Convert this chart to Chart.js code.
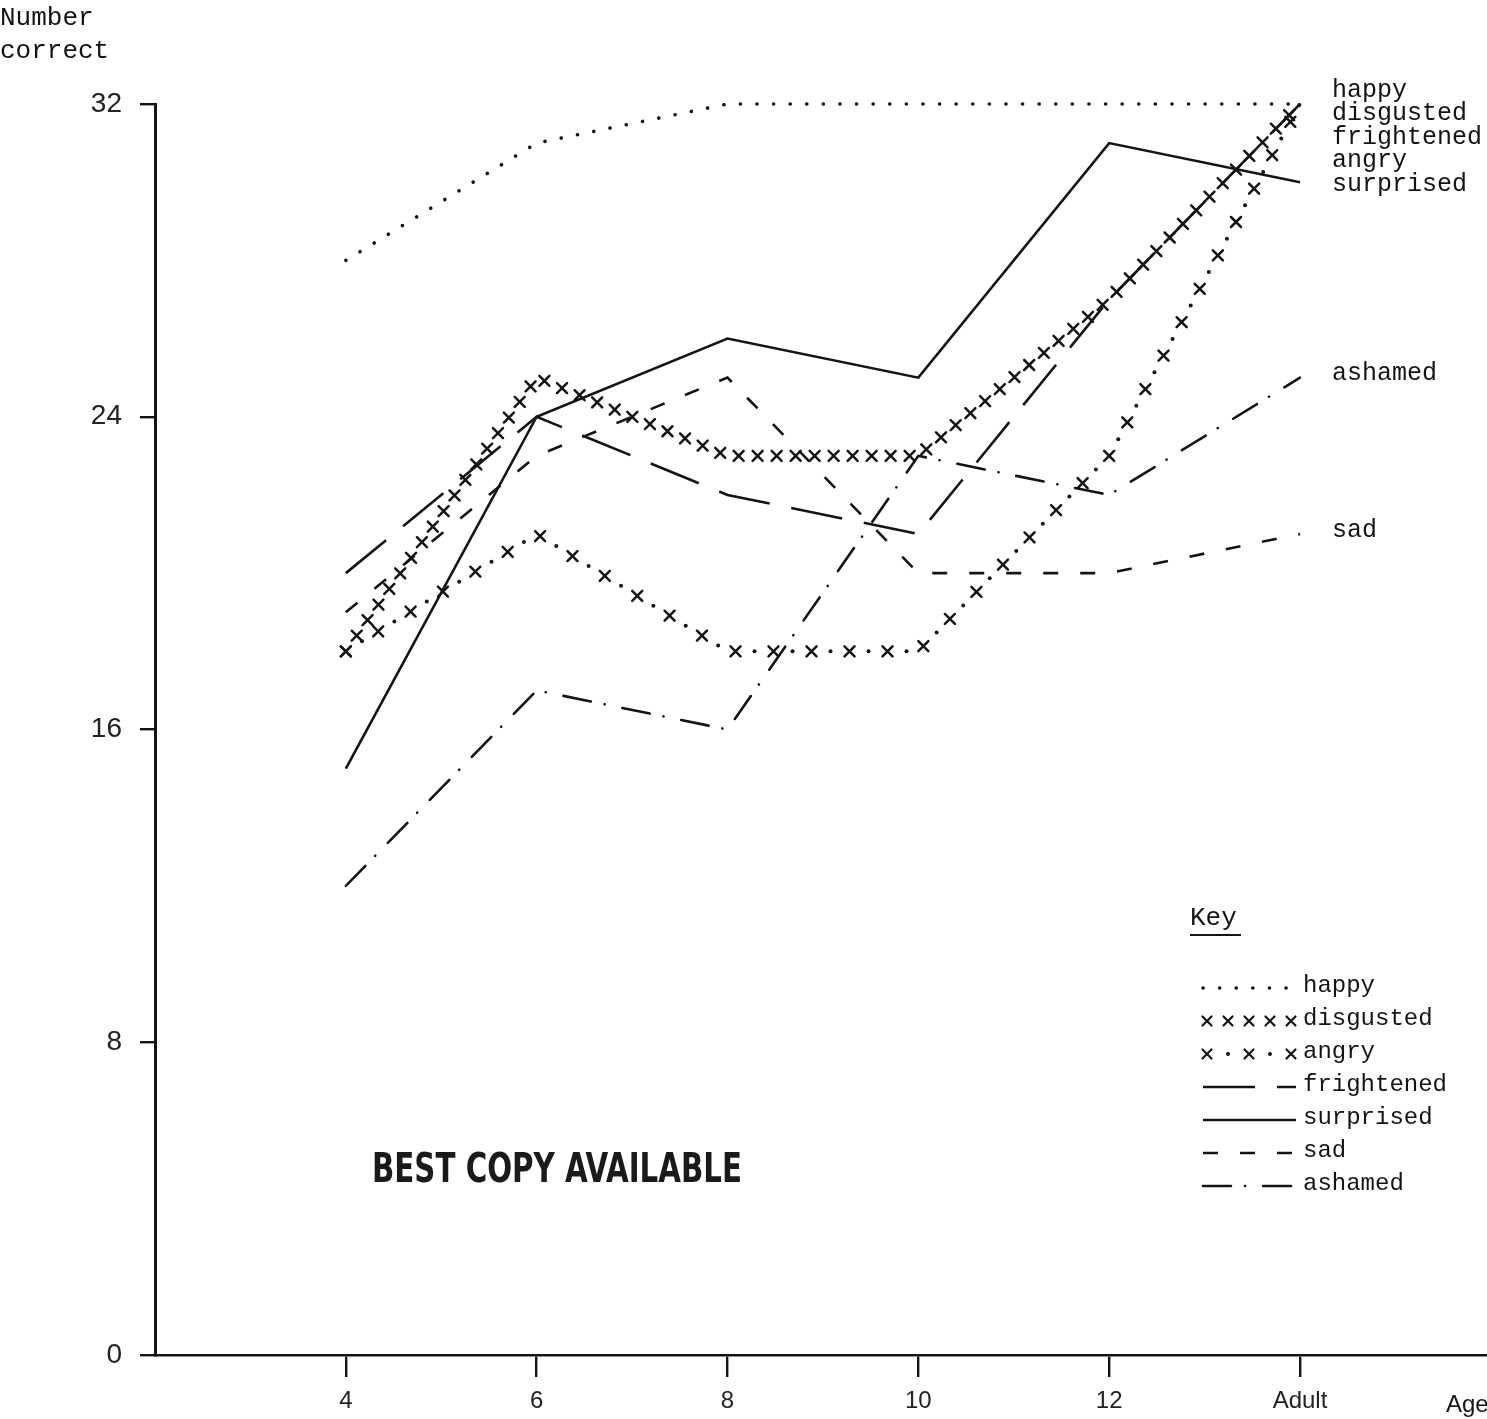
<!DOCTYPE html>
<html>
<head>
<meta charset="utf-8">
<script src="https://cdn.jsdelivr.net/npm/chart.js@4.4.0/dist/chart.umd.min.js"></script>
<style>
  html, body { margin: 0; padding: 0; background: #fff; }
  #wrap { position: relative; width: 1487px; height: 1419px; }
</style>
</head>
<body>
<div id="wrap"><canvas id="emotions"></canvas></div>
<script>
// ages on the x axis, number correct (out of 32) per emotion
var ages = ['4', '6', '8', '10', '12', 'Adult'];
var happy      = [28, 31, 32, 32, 32, 32];
var disgusted  = [18, 25, 23, 23, 27, 32];
var angry      = [18, 21, 18, 18, 23, 32];
var frightened = [20, 24, 22, 21, 27, 32];
var surprised  = [15, 24, 26, 25, 31, 30];
var sad        = [19, 23, 25, 20, 20, 21];
var ashamed    = [12, 17, 16, 23, 22, 25];
var yTicks = [0, 8, 16, 24, 32];

var ink = '#141414';
var mono = '"Liberation Mono", "DejaVu Sans Mono", monospace';

function toPoints(values) {
  return values.map(function(v, i) { return { x: i, y: v }; });
}

function series(label, values, opts) {
  return {
    label: label,
    data: toPoints(values),
    borderColor: opts.mark ? 'rgba(0,0,0,0)' : ink,
    borderWidth: opts.width || 2.6,
    borderDash: opts.dash || [],
    borderCapStyle: opts.cap || 'butt',
    pointRadius: 0,
    tension: 0,
    clip: false,
    mark: opts.mark || null
  };
}

var datasets = [
  series('happy', happy, { dash: [0.1, 16.5], cap: 'round', width: 3.6 }),
  series('disgusted', disgusted, { mark: 'cross' }),
  series('angry', angry, { mark: 'crossdot' }),
  series('frightened', frightened, { dash: [52, 22] }),
  series('surprised', surprised, {}),
  series('sad', sad, { dash: [15, 22] }),
  series('ashamed', ashamed, { dash: [28, 14, 0.1, 18], cap: 'round' })
];

function cross(ctx, x, y, r) {
  ctx.beginPath();
  ctx.moveTo(x - r, y - r); ctx.lineTo(x + r, y + r);
  ctx.moveTo(x + r, y - r); ctx.lineTo(x - r, y + r);
  ctx.stroke();
}
function dot(ctx, x, y, r) {
  ctx.beginPath();
  ctx.arc(x, y, r, 0, Math.PI * 2);
  ctx.fill();
}

// call fn every `step` px along a polyline
function walkLine(points, step, fn) {
  var k = 0, carry = 0;
  for (var i = 0; i < points.length - 1; i++) {
    var a = points[i], b = points[i + 1];
    var dx = b.x - a.x, dy = b.y - a.y, len = Math.hypot(dx, dy);
    var d = carry;
    while (d <= len) {
      fn(a.x + dx * d / len, a.y + dy * d / len, k++);
      d += step;
    }
    carry = d - len;
  }
}

function drawMark(ctx, kind, x, y, k) {
  if (kind === 'cross' || k % 2 === 0) cross(ctx, x, y, 5);
  else dot(ctx, x, y, 2);
}

var crossMarks = {
  id: 'crossMarks',
  afterDatasetsDraw: function(chart) {
    var ctx = chart.ctx;
    ctx.save();
    ctx.strokeStyle = ink; ctx.fillStyle = ink; ctx.lineWidth = 2.5; ctx.lineCap = 'round';
    chart.data.datasets.forEach(function(ds, i) {
      if (!ds.mark) return;
      var pts = chart.getDatasetMeta(i).data.map(function(p) { return { x: p.x, y: p.y }; });
      walkLine(pts, 19, function(x, y, k) { drawMark(ctx, ds.mark, x, y, k); });
    });
    ctx.restore();
  }
};

var annotations = {
  id: 'annotations',
  afterDraw: function(chart) {
    var ctx = chart.ctx, ys = chart.scales.y;
    ctx.save();
    ctx.fillStyle = ink;
    ctx.textBaseline = 'middle';
    ctx.textAlign = 'left';

    // axis title
    ctx.font = '26px ' + mono;
    ctx.fillText('Number', 0, 18);
    ctx.fillText('correct', 0, 51);
    ctx.font = '24px "Liberation Sans", Arial, sans-serif';
    ctx.fillText('Age', 1446, 1405);

    // line-end labels
    ctx.font = '25px ' + mono;
    ['happy', 'disgusted', 'frightened', 'angry', 'surprised'].forEach(function(t, i) {
      ctx.fillText(t, 1332, 90 + i * 23.5);
    });
    ctx.fillText('ashamed', 1332, ys.getPixelForValue(ashamed[ashamed.length - 1]) - 4);
    ctx.fillText('sad', 1332, ys.getPixelForValue(sad[sad.length - 1]) - 4);

    // key
    ctx.font = '26px ' + mono;
    ctx.fillText('Key', 1190, 918);
    ctx.lineWidth = 2;
    ctx.strokeStyle = ink;
    ctx.beginPath(); ctx.moveTo(1190, 935); ctx.lineTo(1241, 935); ctx.stroke();

    ctx.font = '24px ' + mono;
    var rowY = 988;
    chart.data.datasets.forEach(function(ds) {
      var x0 = 1203, x1 = 1296;
      ctx.save();
      ctx.strokeStyle = ink; ctx.fillStyle = ink;
      if (ds.mark) {
        ctx.lineWidth = 2.2; ctx.lineCap = 'round';
        for (var k = 0; k < 5; k++) {
          var x = x0 + 4 + k * 21;
          if (ds.mark === 'cross' || k % 2 === 0) cross(ctx, x, rowY, 4.5);
          else dot(ctx, x, rowY, 2);
        }
      } else {
        ctx.lineWidth = ds.borderWidth;
        ctx.lineCap = ds.borderCapStyle;
        ctx.setLineDash(ds.borderDash);
        ctx.beginPath(); ctx.moveTo(x0, rowY); ctx.lineTo(x1, rowY); ctx.stroke();
      }
      ctx.restore();
      ctx.fillText(ds.label, 1303, rowY - 2);
      rowY += 33;
    });

    // photocopy stamp
    ctx.font = 'bold 40px "DejaVu Sans Condensed", "DejaVu Sans", sans-serif';
    ctx.fillStyle = '#1a1a1a';
    ctx.fillText('BEST COPY AVAILABLE', 372, 1172, 370);
    ctx.restore();
  }
};

new Chart(document.getElementById('emotions'), {
  type: 'line',
  data: { datasets: datasets },
  options: {
    responsive: true,
    maintainAspectRatio: false,
    animation: false,
    layout: { padding: { top: 104, right: 0, bottom: 0, left: 0 } },
    plugins: { legend: { display: false }, tooltip: { enabled: false } },
    scales: {
      x: {
        type: 'linear',
        min: -1,
        max: 5.98,
        afterBuildTicks: function(s) { s.ticks = ages.map(function(a, i) { return { value: i }; }); },
        afterFit: function(s) { s.height = 64; },
        border: { display: true, color: ink, width: 2.6, dash: [92, 40] },
        grid: { drawOnChartArea: false, drawTicks: true, tickLength: 22, color: ink, lineWidth: 2.4 },
        ticks: {
          padding: 10,
          color: '#222',
          font: { family: '"Liberation Sans Narrow", "Liberation Sans", sans-serif', size: 24 },
          maxRotation: 0,
          callback: function(v) { return ages[Math.round(v)]; }
        }
      },
      y: {
        min: 0,
        max: 32,
        afterBuildTicks: function(s) { s.ticks = yTicks.map(function(v) { return { value: v }; }); },
        afterFit: function(s) { s.width = 155; },
        border: { display: true, color: ink, width: 3 },
        grid: { drawOnChartArea: false, drawTicks: true, tickLength: 15, color: ink, lineWidth: 2.4 },
        ticks: {
          padding: 18,
          color: '#222',
          font: { family: '"Liberation Sans", Arial, sans-serif', size: 28 }
        }
      }
    }
  },
  plugins: [crossMarks, annotations]
});
</script>
</body>
</html>
